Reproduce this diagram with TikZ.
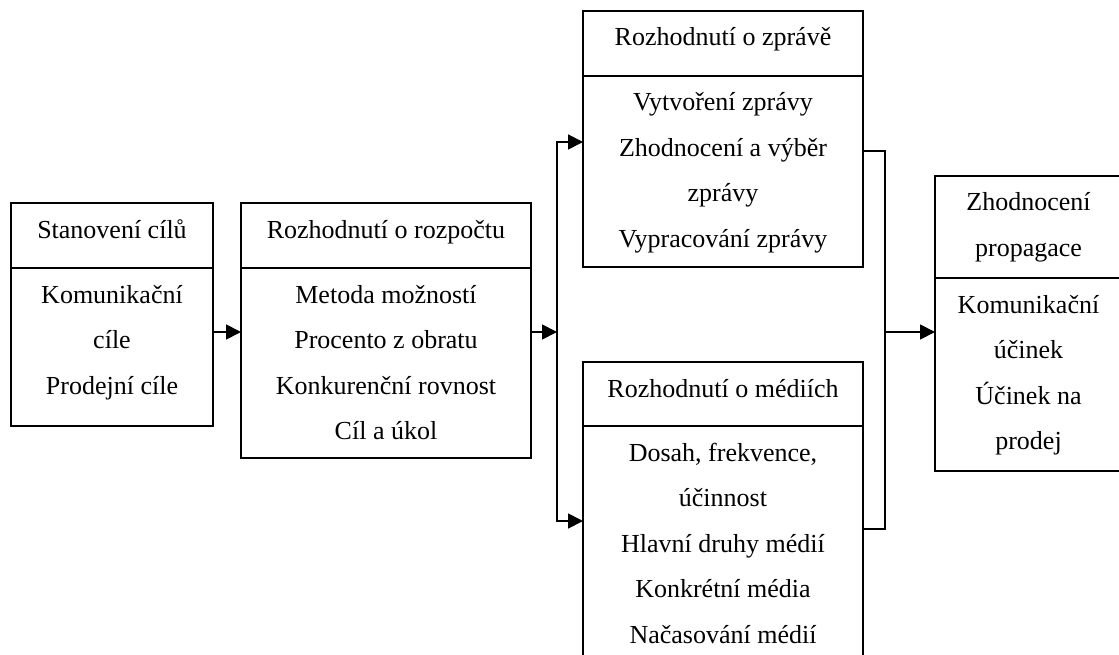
\documentclass[tikz,border=0pt]{standalone}
\usepackage{fontspec}
\setmainfont{Liberation Serif}
\usetikzlibrary{arrows.meta}
\newcommand{\celltxt}[3]{\parbox[t][#2][t]{#1}{\centering\fontsize{26pt}{45.5pt}\selectfont\rule{0pt}{35pt}#3}}
\begin{document}
\begin{tikzpicture}[x=1pt,y=-1pt,
  part/.style={draw, line width=2pt, inner sep=0pt, outer sep=0pt, anchor=north west},
  arr/.style={line width=1.8pt, line join=miter, -{Triangle[length=15pt,width=15pt]}},
  ln/.style={line width=1.8pt, line join=miter}]
\clip (0,0) rectangle (1119,655);
\node[part] (h1) at (11,203) {\celltxt{202pt}{65pt}{Stanovení cílů}};
\node[part] (b1) at (11,268) {\celltxt{202pt}{158pt}{Komunikační\\cíle\\Prodejní cíle}};
\node[part] (h2) at (241,203) {\celltxt{290pt}{65pt}{Rozhodnutí o rozpočtu}};
\node[part] (b2) at (241,268) {\celltxt{290pt}{190pt}{Metoda možností\\Procento z obratu\\Konkurenční rovnost\\Cíl a úkol}};
\node[part] (h3) at (583,11) {\celltxt{280pt}{65pt}{Rozhodnutí o zprávě}};
\node[part] (b3) at (583,76) {\celltxt{280pt}{191pt}{Vytvoření zprávy\\Zhodnocení a výběr\\zprávy\\Vypracování zprávy}};
\node[part] (h4) at (583,362) {\celltxt{280pt}{64pt}{Rozhodnutí o médiích}};
\node[part] (b4) at (583,426) {\celltxt{280pt}{254pt}{Dosah, frekvence,\\účinnost\\Hlavní druhy médií\\Konkrétní média\\Načasování médií}};
\node[part] (h5) at (935,176) {\celltxt{187pt}{102pt}{Zhodnocení\\propagace}};
\node[part] (b5) at (935,278) {\celltxt{187pt}{193pt}{Komunikační\\účinek\\Účinek na\\prodej}};
\coordinate (fork) at (557,332);
\coordinate (f3) at (557,142);
\coordinate (f4) at (557,521);
\coordinate (join) at (885,332);
\coordinate (j3) at (885,151);
\coordinate (j4) at (885,529);
\draw[arr] (b1.east |- fork) -- (b2.west |- fork);
\draw[arr] (b2.east |- fork) -- (fork);
\draw[arr] (fork) -- (f3) -- (b3.west |- f3);
\draw[arr] (fork) -- (f4) -- (b4.west |- f4);
\draw[ln] (b3.east |- j3) -- (j3) -- (j4) -- (b4.east |- j4);
\draw[arr] (join) -- (b5.west |- join);
\end{tikzpicture}
\end{document}
